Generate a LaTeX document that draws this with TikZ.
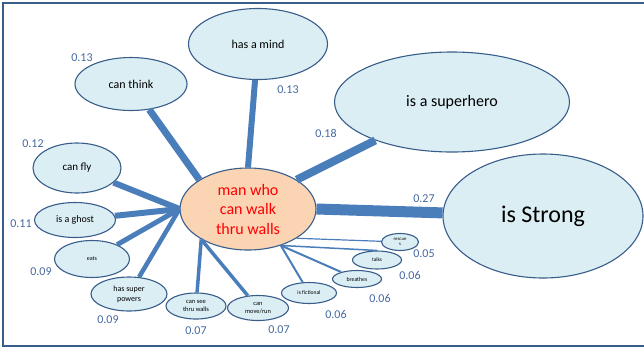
\documentclass[tikz,border=0pt]{standalone}
\usepackage{fontspec}
\setmainfont{Carlito}
\usetikzlibrary{shapes, positioning}

\definecolor{linkblue}{RGB}{74,126,187}
\definecolor{rimblue}{RGB}{56,93,138}
\definecolor{paleblue}{RGB}{219,238,244}
\definecolor{peach}{RGB}{251,212,180}
\definecolor{numblue}{RGB}{68,104,160}

\tikzset{
    trait/.style={ellipse, draw=rimblue, fill=paleblue, line width=1.1pt, inner sep=0pt, align=center},
    weight/.style={text=numblue, font=\fontsize{12}{14}\selectfont},
    link/.style={draw=linkblue}
}
\newcommand{\fs}[2]{\fontsize{#1}{#2}\selectfont}

\begin{document}
\begin{tikzpicture}[x=1pt, y=-1pt]
    \useasboundingbox (0,0) rectangle (644,349);
    \draw[rimblue, line width=1.6pt] (644,3) -- (3,3) -- (3,346) -- (644,346);

    % centre concept
    \node[ellipse, draw=rimblue, fill=peach, line width=1.1pt, inner sep=0pt, minimum width=136, minimum height=82, text=red, align=center, font=\fs{16}{19.5}] (ctr) at (248,209) {man who\\can walk\\thru walls};

    % traits
    \node[trait, minimum width=139, minimum height=71, font=\fs{12}{14}] (mind) at (258,44) {has a mind};
    \node[trait, minimum width=112, minimum height=53, font=\fs{12}{14}] (think) at (131,84) {can think};
    \node[trait, minimum width=235, minimum height=100, font=\fs{16}{19}] (hero) at (452,102) {is a superhero};
    \node[trait, minimum width=200, minimum height=124, font=\fs{24}{28}] (strong) at (543,216) {is Strong};
    \node[trait, minimum width=88, minimum height=50, font=\fs{11}{13}] (fly) at (77,168) {can fly};
    \node[trait, minimum width=81, minimum height=35, font=\fs{10}{12}] (ghost) at (75,220) {is a ghost};
    \node[trait, minimum width=75, minimum height=37, font=\fs{6}{7}] (eats) at (92,259) {eats};
    \node[trait, minimum width=76, minimum height=34, font=\fs{8}{10}] (powers) at (129,294) {has super\\powers};
    \node[trait, minimum width=60, minimum height=26, font=\fs{6.5}{7.5}] (seewalls) at (196,306) {can see\\thru walls};
    \node[trait, minimum width=61, minimum height=25, font=\fs{6.4}{7.5}] (move) at (258,308) {can\\move/run};
    \node[trait, minimum width=55, minimum height=21, font=\fs{5.6}{6.5}] (fict) at (309,293) {is fictional};
    \node[trait, minimum width=49, minimum height=17, font=\fs{5.8}{6.5}] (breathes) at (357,279) {breathes};
    \node[trait, minimum width=49, minimum height=18, font=\fs{5.3}{6}] (talks) at (377,260) {talks};
    \node[trait, minimum width=37, minimum height=17, font=\fs{4.8}{5.5}] (rescues) at (400,242) {rescue\\s};

    % links
    \draw[link, line width=11] (ctr.east) -- (strong);
    \draw[link, line width=8] (ctr.31) -- (hero);
    \draw[link, line width=6] (ctr.north) -- (mind);
    \draw[link, line width=7] (ctr.149) -- (think);
    \draw[link, line width=6] (ctr.west) -- (fly);
    \draw[link, line width=6] (ctr.west) -- (ghost);
    \draw[link, line width=5] (ctr.west) -- (eats);
    \draw[link, line width=4.5] (ctr.west) -- (powers);
    \draw[link, line width=3.5] (ctr.213) -- (seewalls);
    \draw[link, line width=3.5] (ctr.213) -- (move);
    \draw[link, line width=2] (ctr.312) -- (fict);
    \draw[link, line width=2] (ctr.312) -- (breathes);
    \draw[link, line width=1.5] (ctr.312) -- (talks.north);
    \draw[link, line width=1.2] (ctr.329) -- (rescues);

    % weights
    \node[weight] (wthink) at (82,58) {0.13};
    \node[weight] (wmind) at (288,90) {0.13};
    \node[weight] (whero) at (326,133) {0.18};
    \node[weight] (wstrong) at (424,199) {0.27};
    \node[weight] (wfly) at (33,144) {0.12};
    \node[weight] (wghost) at (21,224) {0.11};
    \node[weight] (weats) at (41,272) {0.09};
    \node[weight] (wpowers) at (108,320) {0.09};
    \node[weight] (wsee) at (196,331) {0.07};
    \node[weight] (wmove) at (279,330) {0.07};
    \node[weight] (wfict) at (336,314) {0.06};
    \node[weight] (wbreathes) at (380,298) {0.06};
    \node[weight] (wtalks) at (410,275) {0.06};
    \node[weight] (wrescues) at (424,254) {0.05};
\end{tikzpicture}
\end{document}
